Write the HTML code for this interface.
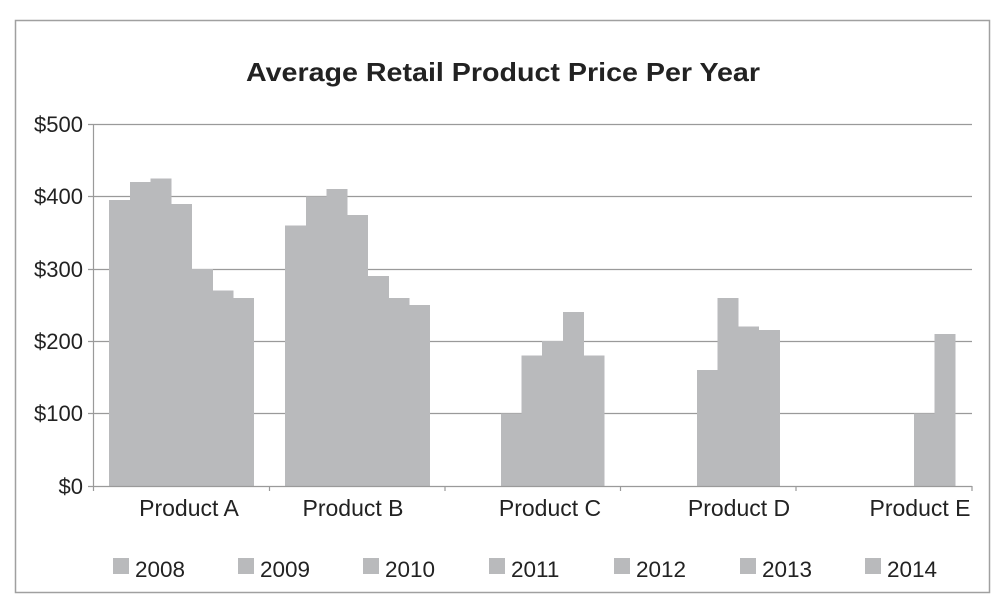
<!DOCTYPE html>
<html><head><meta charset="utf-8"><style>
html,body{margin:0;padding:0;background:#fff;}
svg{display:block;font-family:"Liberation Sans",Arial,sans-serif;}
</style></head><body>
<svg width="1005" height="603" viewBox="0 0 1005 603" xmlns="http://www.w3.org/2000/svg">
<rect x="15.5" y="20.5" width="974" height="572" fill="#fff" stroke="#a0a0a0" stroke-width="1.5"/>
<text x="503" y="81" text-anchor="middle" font-size="26" font-weight="bold" fill="#222" textLength="514" lengthAdjust="spacingAndGlyphs">Average Retail Product Price Per Year</text>
<g stroke="#9a9a9a" stroke-width="1.2">
<line x1="88" y1="124.5" x2="972" y2="124.5"/>
<line x1="88" y1="196.5" x2="972" y2="196.5"/>
<line x1="88" y1="269.5" x2="972" y2="269.5"/>
<line x1="88" y1="341.5" x2="972" y2="341.5"/>
<line x1="88" y1="413.5" x2="972" y2="413.5"/>
</g>
<g fill="#b9babc">
<rect x="109" y="200" width="21" height="286"/>
<rect x="130" y="182" width="21" height="304"/>
<rect x="150.5" y="178.5" width="21" height="307.5"/>
<rect x="171" y="204" width="21" height="282"/>
<rect x="192" y="269" width="21" height="217"/>
<rect x="212.5" y="290.5" width="21" height="195.5"/>
<rect x="233" y="298" width="21" height="188"/>
<rect x="285" y="225.5" width="21" height="260.5"/>
<rect x="306" y="196.5" width="21" height="289.5"/>
<rect x="326.5" y="189" width="21" height="297"/>
<rect x="347" y="215" width="21" height="271"/>
<rect x="368" y="276" width="21" height="210"/>
<rect x="388.5" y="298" width="21" height="188"/>
<rect x="409" y="305" width="21" height="181"/>
<rect x="501" y="413.5" width="21" height="72.5"/>
<rect x="521.5" y="355.5" width="21" height="130.5"/>
<rect x="542" y="341" width="21" height="145"/>
<rect x="563" y="312" width="21" height="174"/>
<rect x="583.5" y="355.5" width="21" height="130.5"/>
<rect x="697" y="370" width="21" height="116"/>
<rect x="717.5" y="298" width="21" height="188"/>
<rect x="738" y="326.5" width="21" height="159.5"/>
<rect x="759" y="330" width="21" height="156"/>
<rect x="914" y="413.5" width="21" height="72.5"/>
<rect x="934.5" y="334" width="21" height="152"/>
</g>
<g stroke="#9a9a9a" stroke-width="1.2">
<line x1="93.5" y1="124" x2="93.5" y2="491"/>
<line x1="88" y1="486.5" x2="972" y2="486.5"/>
<line x1="269.5" y1="486" x2="269.5" y2="491"/>
<line x1="445" y1="486" x2="445" y2="491"/>
<line x1="620.5" y1="486" x2="620.5" y2="491"/>
<line x1="796" y1="486" x2="796" y2="491"/>
<line x1="972" y1="486" x2="972" y2="491"/>
</g>
<g font-size="22" fill="#222" text-anchor="end">
<text x="83" y="132">$500</text>
<text x="83" y="204">$400</text>
<text x="83" y="277">$300</text>
<text x="83" y="349">$200</text>
<text x="83" y="421">$100</text>
<text x="83" y="494">$0</text>
</g>
<g font-size="23" fill="#222" text-anchor="middle">
<text x="189" y="516">Product A</text>
<text x="353" y="516">Product B</text>
<text x="550" y="516">Product C</text>
<text x="739" y="516">Product D</text>
<text x="920" y="516">Product E</text>
</g>
<g fill="#b9babc">
<rect x="113" y="558" width="16" height="16"/>
<rect x="238" y="558" width="16" height="16"/>
<rect x="363" y="558" width="16" height="16"/>
<rect x="489" y="558" width="16" height="16"/>
<rect x="614" y="558" width="16" height="16"/>
<rect x="740" y="558" width="16" height="16"/>
<rect x="865" y="558" width="16" height="16"/>
</g>
<g font-size="22.5" fill="#222">
<text x="135" y="577">2008</text>
<text x="260" y="577">2009</text>
<text x="385" y="577">2010</text>
<text x="511" y="577">2011</text>
<text x="636" y="577">2012</text>
<text x="762" y="577">2013</text>
<text x="887" y="577">2014</text>
</g>
</svg>
</body></html>
